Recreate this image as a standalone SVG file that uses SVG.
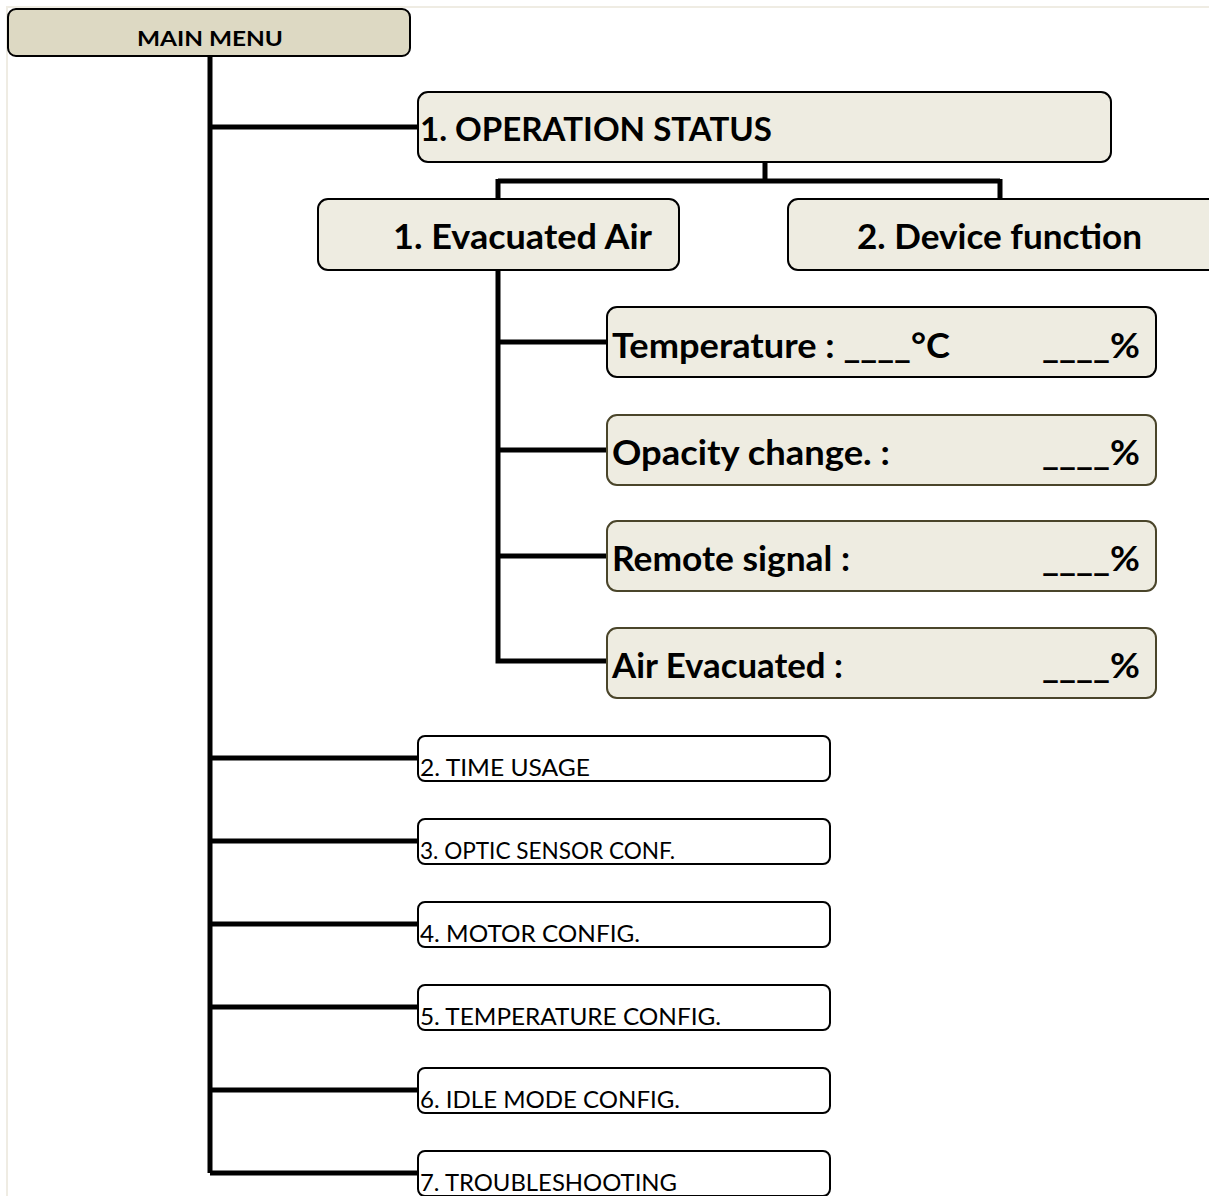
<svg xmlns="http://www.w3.org/2000/svg" width="1209" height="1196" viewBox="0 0 1209 1196">
<style>
.frame{fill:none;stroke:#efece3;stroke-width:2}
.main{fill:#ddd9c3;stroke:#000;stroke-width:2}
.big{fill:#eeece1;stroke:#000;stroke-width:2}
.det{fill:#eeece1;stroke:#4a452a;stroke-width:2}
.small{fill:#fff;stroke:#000;stroke-width:2}
.conn{fill:none;stroke:#000;stroke-width:5}
text{font-family:Lato,"Open Sans","Liberation Sans",sans-serif;fill:#000}
.b{font-weight:bold}
.t18{font-size:20px}
.t30{font-size:33px}
.t32{font-size:35px}
.t28{font-size:34px}
.t20{font-size:24px}
</style>
<rect width="1209" height="1196" fill="#fff"/>
<rect class="frame" x="7" y="7" width="1220" height="1220"/>
<g id="connectors">
<path class="conn" d="M210 56 V1173"/>
<path class="conn" d="M210 127 H418"/>
<path class="conn" d="M765 162 V181 M498 181 H1000 M498 179 V199 M1000 179 V199"/>
<path class="conn" d="M498 270 V661 H607"/>
<path class="conn" d="M498 342 H607 M498 450 H607 M498 556 H607"/>
<path class="conn" d="M210 758 H418 M210 841 H418 M210 924 H418 M210 1007 H418 M210 1090 H418 M210 1173 H418"/>
</g>
<g id="main-menu">
<rect class="main" x="8" y="9" width="402" height="47" rx="8"/>
<text class="b t18" x="210" y="46" text-anchor="middle" textLength="146" lengthAdjust="spacingAndGlyphs">MAIN MENU</text>
</g>
<g id="operation-status">
<rect class="big" x="418" y="92" width="693" height="70" rx="10"/>
<text class="b t30" x="420" y="141" textLength="352" lengthAdjust="spacingAndGlyphs">1. OPERATION STATUS</text>
</g>
<g id="evacuated-air">
<rect class="big" x="318" y="199" width="361" height="71" rx="10"/>
<text class="b t32" x="393" y="249" textLength="259" lengthAdjust="spacingAndGlyphs">1.  Evacuated Air</text>
</g>
<g id="device-function">
<rect class="big" x="788" y="199" width="430" height="71" rx="10"/>
<text class="b t32" x="857" y="249" textLength="285" lengthAdjust="spacingAndGlyphs">2.  Device function</text>
</g>
<g id="temperature">
<rect class="big" x="607" y="307" width="549" height="70" rx="10"/>
<text class="b t28" x="612" y="358" textLength="338" lengthAdjust="spacingAndGlyphs">Temperature : ____°C</text>
<text class="b t28" x="1042" y="358" textLength="98" lengthAdjust="spacingAndGlyphs">____%</text>
</g>
<g id="opacity-change">
<rect class="det" x="607" y="415" width="549" height="70" rx="10"/>
<text class="b t28" x="612" y="465" textLength="278" lengthAdjust="spacingAndGlyphs">Opacity change. :</text>
<text class="b t28" x="1042" y="465" textLength="98" lengthAdjust="spacingAndGlyphs">____%</text>
</g>
<g id="remote-signal">
<rect class="det" x="607" y="521" width="549" height="70" rx="10"/>
<text class="b t28" x="612" y="571" textLength="238" lengthAdjust="spacingAndGlyphs">Remote signal :</text>
<text class="b t28" x="1042" y="571" textLength="98" lengthAdjust="spacingAndGlyphs">____%</text>
</g>
<g id="air-evacuated">
<rect class="det" x="607" y="628" width="549" height="70" rx="10"/>
<text class="b t28" x="612" y="678" textLength="231" lengthAdjust="spacingAndGlyphs">Air Evacuated :</text>
<text class="b t28" x="1042" y="678" textLength="98" lengthAdjust="spacingAndGlyphs">____%</text>
</g>
<g id="time-usage">
<rect class="small" x="418" y="736" width="412" height="45" rx="7"/>
<text class="t20" x="420" y="776" textLength="170" lengthAdjust="spacingAndGlyphs">2. TIME USAGE</text>
</g>
<g id="optic-sensor">
<rect class="small" x="418" y="819" width="412" height="45" rx="7"/>
<text class="t20" x="420" y="859" textLength="255" lengthAdjust="spacingAndGlyphs">3. OPTIC SENSOR CONF.</text>
</g>
<g id="motor-config">
<rect class="small" x="418" y="902" width="412" height="45" rx="7"/>
<text class="t20" x="420" y="942" textLength="220" lengthAdjust="spacingAndGlyphs">4. MOTOR CONFIG.</text>
</g>
<g id="temperature-config">
<rect class="small" x="418" y="985" width="412" height="45" rx="7"/>
<text class="t20" x="420" y="1025" textLength="301" lengthAdjust="spacingAndGlyphs">5. TEMPERATURE CONFIG.</text>
</g>
<g id="idle-mode">
<rect class="small" x="418" y="1068" width="412" height="45" rx="7"/>
<text class="t20" x="420" y="1108" textLength="260" lengthAdjust="spacingAndGlyphs">6. IDLE MODE CONFIG.</text>
</g>
<g id="troubleshooting">
<rect class="small" x="418" y="1151" width="412" height="45" rx="7"/>
<text class="t20" x="420" y="1191" textLength="257" lengthAdjust="spacingAndGlyphs">7. TROUBLESHOOTING</text>
</g>
</svg>
